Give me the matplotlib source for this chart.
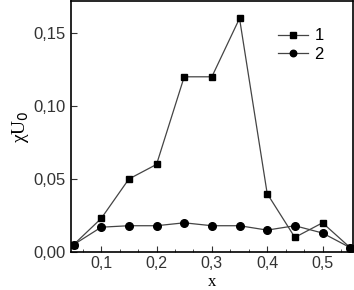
import matplotlib
matplotlib.use("Agg")
import matplotlib.pyplot as plt
from matplotlib.ticker import FuncFormatter, AutoMinorLocator

x = [0.05, 0.10, 0.15, 0.20, 0.25, 0.30, 0.35, 0.40, 0.45, 0.50, 0.55]
s1 = [0.005, 0.023, 0.050, 0.060, 0.120, 0.120, 0.160, 0.040, 0.010, 0.020, 0.003]
s2 = [0.005, 0.017, 0.018, 0.018, 0.020, 0.018, 0.018, 0.015, 0.018, 0.013, 0.003]
xticks = [0.1, 0.2, 0.3, 0.4, 0.5]
yticks = [0.00, 0.05, 0.10, 0.15]

plt.rcParams['font.family'] = ['Liberation Sans', 'DejaVu Sans']
fig = plt.figure(figsize=(3.54, 2.90), dpi=100)
ax = fig.add_axes([0.200, 0.131, 0.797, 0.866])

ax.plot(x, s1, color='#444444', lw=0.9, marker='s', ms=5, mfc='black', mec='black', label='1')
ax.plot(x, s2, color='#444444', lw=0.9, marker='o', ms=5.5, mfc='black', mec='black', label='2')

ax.set_xlim(0.045, 0.555)
ax.set_ylim(0.0, 0.172)
ax.set_xticks(xticks)
ax.set_yticks(yticks)
ax.xaxis.set_minor_locator(AutoMinorLocator(3))
fmt = lambda d: FuncFormatter(lambda v, p: f"{v:.{d}f}".replace('.', ','))
ax.xaxis.set_major_formatter(fmt(1))
ax.yaxis.set_major_formatter(fmt(2))
ax.tick_params(which='both', direction='in', top=False, right=False, labelsize=12, colors='#333333')
ax.tick_params(axis='x', which='major', labelsize=11.5, pad=3)
ax.tick_params(which='major', length=4)
ax.tick_params(which='minor', length=2)
for sp in ax.spines.values():
    sp.set_linewidth(1.2)

ax.set_xlabel('x', fontsize=12, family=['Liberation Serif', 'DejaVu Serif'])
ax.xaxis.set_label_coords(0.5, -0.088)
ax.set_ylabel('χU$_0$', fontsize=14, family=['Liberation Serif', 'DejaVu Serif'], labelpad=2)

leg = ax.legend(loc='upper right', bbox_to_anchor=(0.95, 0.95), frameon=False, fontsize=12,
                handlelength=1.8, handletextpad=0.4, labelspacing=0.2, markerscale=0.85)

fig.savefig('out.png', dpi=100)
